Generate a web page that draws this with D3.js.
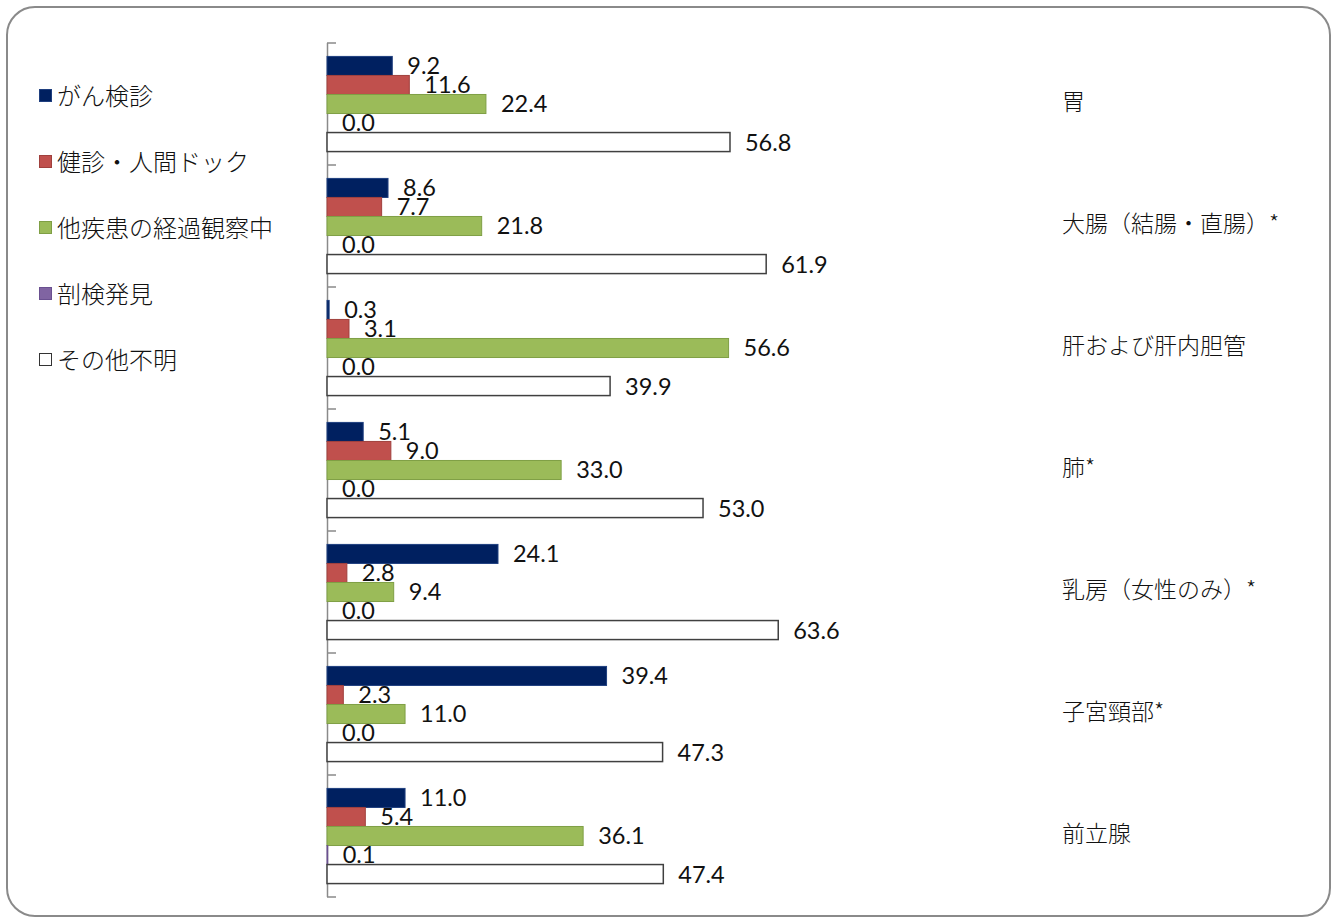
<!DOCTYPE html>
<html><head><meta charset="utf-8">
<script src="https://cdn.jsdelivr.net/npm/d3@7"></script>
<style>body{margin:0;background:#fff}svg{display:block}</style>
</head><body>
<svg id="c" width="1334" height="918"></svg>
<script>
const categories = ["胃","大腸（結腸・直腸）*","肝および肝内胆管","肺*","乳房（女性のみ）*","子宮頸部*","前立腺"];
const seriesNames = ["がん検診","健診・人間ドック","他疾患の経過観察中","剖検発見","その他不明"];
const s1 = [9.2, 8.6, 0.3, 5.1, 24.1, 39.4, 11.0];
const s2 = [11.6, 7.7, 3.1, 9.0, 2.8, 2.3, 5.4];
const s3 = [22.4, 21.8, 56.6, 33.0, 9.4, 11.0, 36.1];
const s4 = [0.0, 0.0, 0.0, 0.0, 0.0, 0.0, 0.1];
const s5 = [56.8, 61.9, 39.9, 53.0, 63.6, 47.3, 47.4];
const seriesValues = [s1, s2, s3, s4, s5];
const fills = ["#002060", "#C0504D", "#9BBB59", "#8064A2", "#FFFFFF"];
const strokes = ["#1F3F7F", "#A0403D", "#7F9F45", "#6A5090", "#404040"];

const svg = d3.select("#c");
svg.append("rect").attr("x", 7).attr("y", 7).attr("width", 1323).attr("height", 909)
  .attr("rx", 28).attr("ry", 28).attr("fill", "#fff").attr("stroke", "#8a8a8a").attr("stroke-width", 2);

const x = d3.scaleLinear().domain([0, 70]).range([327, 327 + 70 * 7.095]);
const y0 = d3.scaleBand().domain(categories).range([43, 897]).paddingInner(0.22).paddingOuter(0.11);
const y1 = d3.scaleBand().domain(seriesNames).range([0, y0.bandwidth()]);
const step = y0.step();

// axis line and ticks
const ax = svg.append("g");
ax.append("line").attr("x1", 327.5).attr("x2", 327.5).attr("y1", 43).attr("y2", 897)
  .attr("stroke", "#8a8a8a").attr("stroke-width", 1.5);
d3.range(categories.length + 1).forEach(i => {
  const yy = 43 + i * step;
  ax.append("line").attr("x1", 327).attr("x2", 336).attr("y1", yy).attr("y2", yy)
    .attr("stroke", "#8a8a8a").attr("stroke-width", 1.5);
});

const rows = [];
categories.forEach((c, ci) => seriesNames.forEach((s, si) => rows.push({c, s, si, v: seriesValues[si][ci]})));

const g = svg.append("g");
g.selectAll("rect.bar").data(rows).join("rect").attr("class", "bar")
  .attr("x", x(0))
  .attr("y", d => y0(d.c) + y1(d.s))
  .attr("width", d => Math.max(0, x(d.v) - x(0)))
  .attr("height", y1.bandwidth())
  .attr("fill", d => fills[d.si])
  .attr("stroke", d => d.v > 0 ? strokes[d.si] : "none")
  .attr("stroke-width", d => d.si === 4 ? 1.5 : 1);

g.selectAll("text.val").data(rows).join("text").attr("class", "val")
  .attr("x", d => x(d.v) + 15)
  .attr("y", d => y0(d.c) + y1(d.s) + y1.bandwidth() / 2)
  .attr("dy", "0.36em")
  .attr("font-family", "Lato, 'Open Sans', sans-serif")
  .attr("font-size", 23.5)
  .attr("fill", "#111")
  .text(d => d.v.toFixed(1));

// category labels
svg.selectAll("text.cat").data(categories).join("text").attr("class", "cat")
  .attr("x", 1062)
  .attr("y", d => y0(d) + y0.bandwidth() / 2 - 2)
  .attr("dy", "0.36em")
  .attr("font-family", "'Noto Sans CJK JP', sans-serif")
  .attr("font-weight", 300)
  .attr("font-size", 23)
  .attr("fill", "#111")
  .text(d => d);

// legend
const lg = svg.append("g");
seriesNames.forEach((s, i) => {
  const yy = 96 + i * 66;
  lg.append("rect").attr("x", 39.5).attr("y", yy - 6.5).attr("width", 12).attr("height", 12)
    .attr("fill", fills[i]).attr("stroke", i === 4 ? "#333" : strokes[i]).attr("stroke-width", 1);
  lg.append("text").attr("x", 57).attr("y", yy).attr("dy", "0.36em")
    .attr("font-family", "'Noto Sans CJK JP', sans-serif").attr("font-weight", 300)
    .attr("font-size", 24)
    .attr("fill", "#111").text(s);
});
</script>
</body></html>
